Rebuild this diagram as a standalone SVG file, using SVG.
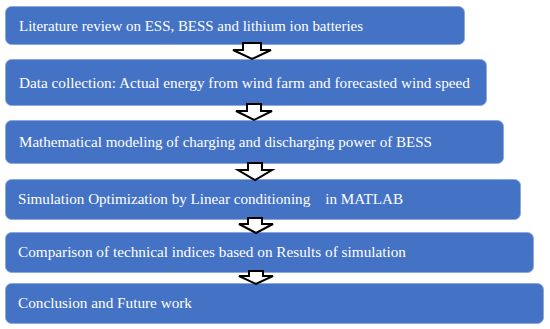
<svg xmlns="http://www.w3.org/2000/svg" width="550" height="329" viewBox="0 0 550 329">
<style>
.box{fill:#4472C4;stroke:#8EA9DB;stroke-width:1}
.t{font-family:"Liberation Serif","DejaVu Serif",serif;font-size:15.5px;fill:#ffffff;white-space:pre}
.arr{fill:#ffffff;stroke:#000000;stroke-width:2;stroke-linejoin:miter}
</style>
<rect width="550" height="329" fill="#ffffff"/>
<g id="n1"><rect class="box" x="5.5" y="6.5" width="459" height="38" rx="6"/><text class="t" x="19" y="31" textLength="344" lengthAdjust="spacingAndGlyphs">Literature review on ESS, BESS and lithium ion batteries</text></g>
<g id="n2"><rect class="box" x="5.5" y="59.5" width="481" height="46" rx="6"/><text class="t" x="19" y="88" textLength="451" lengthAdjust="spacingAndGlyphs">Data collection: Actual energy from wind farm and forecasted wind speed</text></g>
<g id="n3"><rect class="box" x="5.5" y="120.5" width="498" height="43" rx="6"/><text class="t" x="19" y="147" textLength="413" lengthAdjust="spacingAndGlyphs">Mathematical modeling of charging and discharging power of BESS</text></g>
<g id="n4"><rect class="box" x="5.5" y="179.5" width="515" height="40" rx="6"/><text class="t" x="18" y="204" textLength="385" lengthAdjust="spacingAndGlyphs" xml:space="preserve">Simulation Optimization by Linear conditioning    in MATLAB</text></g>
<g id="n5"><rect class="box" x="5.5" y="232.5" width="528" height="40" rx="6"/><text class="t" x="18" y="257" textLength="388" lengthAdjust="spacingAndGlyphs">Comparison of technical indices based on Results of simulation</text></g>
<g id="n6"><rect class="box" x="5.5" y="283.5" width="538" height="40" rx="6"/><text class="t" x="18" y="308" textLength="174" lengthAdjust="spacingAndGlyphs">Conclusion and Future work</text></g>
<g id="connectors">
<path class="arr" d="M243,43 H261 V50 H271 L252,59 L233,50 H243 Z"/>
<path class="arr" d="M247,104 H261 V111 H272 L254,120 L236,111 H247 Z"/>
<path class="arr" d="M248,163 H262 V170 H272 L255,180 L238,170 H248 Z"/>
<path class="arr" d="M248,218 H262 V224 H273 L256,233 L239,224 H248 Z"/>
<path class="arr" d="M249,271 H263 V276 H273 L256,284 L239,276 H249 Z"/>
</g>
</svg>
